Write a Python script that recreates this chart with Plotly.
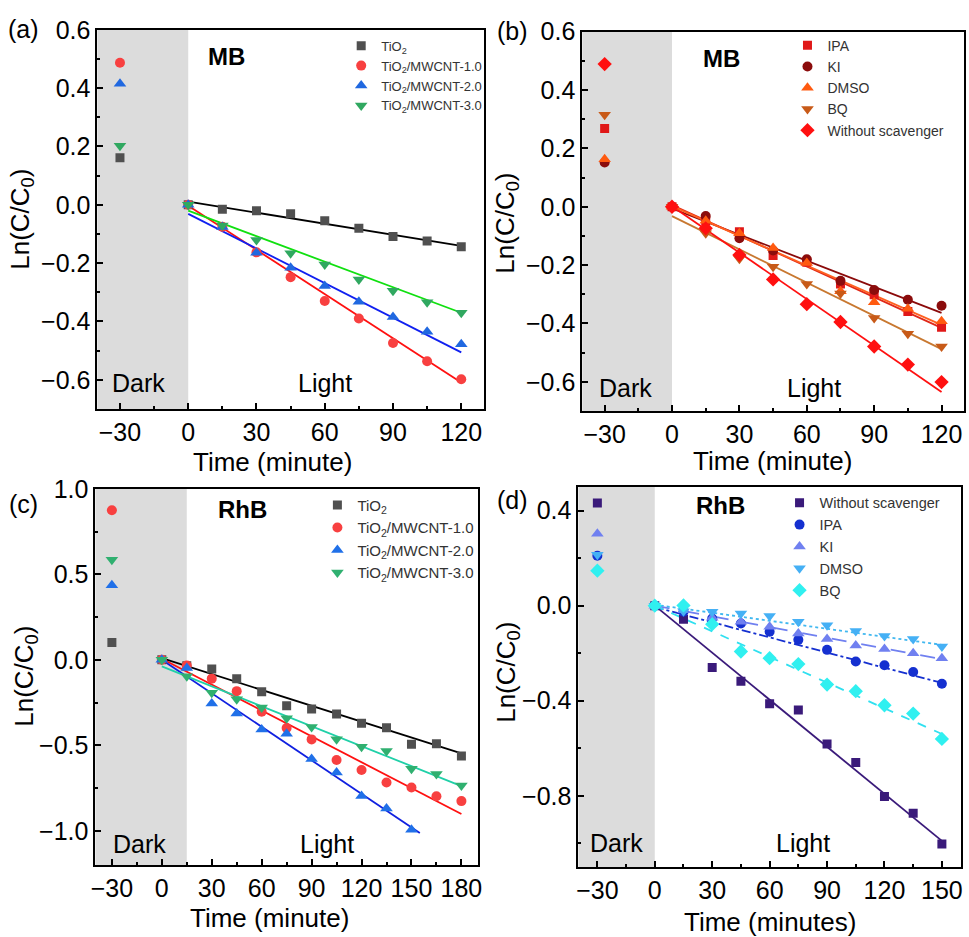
import plotly.graph_objects as go

# ---------------- data ----------------
# (a) MB, catalysts
t_a = [-30, 0, 15, 30, 45, 60, 75, 90, 105, 120]
a_tio2 = [0.161, 0, -0.015, -0.02, -0.031, -0.055, -0.08, -0.109, -0.124, -0.144]
a_cnt1 = [0.487, 0, -0.075, -0.163, -0.248, -0.33, -0.39, -0.474, -0.536, -0.598]
a_cnt2 = [0.415, 0, -0.076, -0.164, -0.216, -0.278, -0.332, -0.385, -0.435, -0.478]
a_cnt3 = [0.202, 0, -0.071, -0.121, -0.166, -0.205, -0.256, -0.295, -0.334, -0.37]
fit_t_a = [0, 120]
fit_a_tio2 = [0.011, -0.141]
fit_a_cnt1 = [-0.003, -0.609]
fit_a_cnt2 = [-0.031, -0.506]
fit_a_cnt3 = [-0.02, -0.37]

# (b) MB, scavengers
t_b = [-30, 0, 15, 30, 45, 60, 75, 90, 105, 120]
b_ipa = [0.268, 0, -0.048, -0.086, -0.167, -0.19, -0.265, -0.302, -0.359, -0.413]
b_ki = [0.152, 0, -0.032, -0.108, -0.15, -0.18, -0.254, -0.285, -0.319, -0.339]
b_dmso = [0.163, 0, -0.048, -0.091, -0.141, -0.193, -0.29, -0.327, -0.35, -0.392]
b_bq = [0.315, 0, -0.091, -0.178, -0.206, -0.265, -0.297, -0.381, -0.435, -0.479]
b_none = [0.489, 0, -0.074, -0.165, -0.249, -0.334, -0.395, -0.479, -0.541, -0.601]
fit_t_b = [0, 120]
fit_b_ipa = [0.006, -0.415]
fit_b_ki = [-0.006, -0.364]
fit_b_dmso = [0.002, -0.405]
fit_b_bq = [-0.032, -0.488]
fit_b_none = [0.002, -0.635]

# (c) RhB, catalysts
t_c = [-30, 0, 15, 30, 45, 60, 75, 90, 105, 120, 135, 150, 165, 180]
t_c2 = [-30, 0, 15, 30, 45, 60, 75, 90, 105, 120, 135, 150]
c_tio2 = [0.102, 0, -0.035, -0.054, -0.11, -0.186, -0.269, -0.288, -0.317, -0.371, -0.397, -0.493, -0.49, -0.562]
c_cnt1 = [0.875, 0, -0.033, -0.11, -0.183, -0.304, -0.398, -0.465, -0.586, -0.644, -0.717, -0.746, -0.798, -0.826]
c_cnt2 = [0.436, 0, -0.048, -0.255, -0.313, -0.407, -0.432, -0.58, -0.658, -0.796, -0.869, -0.993]
c_cnt3 = [0.585, 0, -0.096, -0.192, -0.23, -0.278, -0.341, -0.393, -0.464, -0.508, -0.533, -0.637, -0.667, -0.734]
fit_t_c = [0, 180]
fit_t_c2 = [0, 155]
fit_c_tio2 = [0.01, -0.547]
fit_c_cnt1 = [0.006, -0.901]
fit_c_cnt2 = [0.0, -1.012]
fit_c_cnt3 = [-0.038, -0.738]

# (d) RhB, scavengers
t_d = [-30, 0, 15, 30, 45, 60, 75, 90, 105, 120, 135, 150]
d_none = [0.432, 0, -0.057, -0.26, -0.318, -0.413, -0.439, -0.582, -0.66, -0.803, -0.874, -1.003]
d_ipa = [0.21, 0, -0.026, -0.054, -0.075, -0.11, -0.144, -0.186, -0.235, -0.251, -0.279, -0.329]
d_ki = [0.303, 0, -0.019, -0.051, -0.068, -0.089, -0.117, -0.14, -0.168, -0.182, -0.2, -0.221]
d_dmso = [0.214, 0, -0.024, -0.026, -0.033, -0.044, -0.068, -0.082, -0.107, -0.128, -0.14, -0.172]
d_bq = [0.147, 0, 0.001, -0.078, -0.193, -0.221, -0.246, -0.332, -0.36, -0.419, -0.454, -0.561]
fit_t_d = [0, 150]
fit_d_none = [0.0, -0.99]
fit_d_ipa = [-0.006, -0.325]
fit_d_ki = [0.0, -0.225]
fit_d_dmso = [0.004, -0.165]
fit_d_bq = [0.0, -0.54]

W, H = 969, 937
FONT = "Arial, Liberation Sans, sans-serif"

# marker size per symbol
SIZES = {"square": 9, "circle": 10, "triangle-up": 11, "triangle-down": 11, "diamond": 11}


def px(x, y):
    # pixel position -> paper coords
    return x / W, 1 - y / H


fig = go.Figure()


def add_points(x, y, name, color, symbol, ax, legend):
    fig.add_trace(go.Scatter(
        x=x, y=y, mode="markers", name=name,
        marker=dict(color=color, symbol=symbol, size=SIZES[symbol]),
        xaxis="x" + ax, yaxis="y" + ax, legend=legend
    ))


def add_fit(x, y, color, ax, dash="solid"):
    fig.add_trace(go.Scatter(
        x=x, y=y, mode="lines", showlegend=False,
        line=dict(color=color, width=1.8, dash=dash),
        xaxis="x" + ax, yaxis="y" + ax
    ))


# panel (a)
add_fit(fit_t_a, fit_a_tio2, "#000000", "")
add_fit(fit_t_a, fit_a_cnt1, "#ff1010", "")
add_fit(fit_t_a, fit_a_cnt2, "#1020f0", "")
add_fit(fit_t_a, fit_a_cnt3, "#10e010", "")
add_points(t_a, a_tio2, "TiO<sub>2</sub>", "#505050", "square", "", "legend")
add_points(t_a, a_cnt1, "TiO<sub>2</sub>/MWCNT-1.0", "#f84040", "circle", "", "legend")
add_points(t_a, a_cnt2, "TiO<sub>2</sub>/MWCNT-2.0", "#2068e0", "triangle-up", "", "legend")
add_points(t_a, a_cnt3, "TiO<sub>2</sub>/MWCNT-3.0", "#30a860", "triangle-down", "", "legend")

# panel (b)
add_fit(fit_t_b, fit_b_ki, "#8b0a0a", "2")
add_fit(fit_t_b, fit_b_ipa, "#e02818", "2")
add_fit(fit_t_b, fit_b_dmso, "#ff6020", "2")
add_fit(fit_t_b, fit_b_bq, "#c87830", "2")
add_fit(fit_t_b, fit_b_none, "#ff1010", "2")
add_points(t_b, b_ipa, "IPA", "#e01818", "square", "2", "legend2")
add_points(t_b, b_ki, "KI", "#8b0c0c", "circle", "2", "legend2")
add_points(t_b, b_dmso, "DMSO", "#ff5a10", "triangle-up", "2", "legend2")
add_points(t_b, b_bq, "BQ", "#c85a18", "triangle-down", "2", "legend2")
add_points(t_b, b_none, "Without scavenger", "#ff1010", "diamond", "2", "legend2")

# panel (c)
add_fit(fit_t_c, fit_c_tio2, "#000000", "3")
add_fit(fit_t_c, fit_c_cnt1, "#ff1010", "3")
add_fit(fit_t_c2, fit_c_cnt2, "#1020e0", "3")
add_fit(fit_t_c, fit_c_cnt3, "#20d0a8", "3")
add_points(t_c, c_tio2, "TiO<sub>2</sub>", "#505050", "square", "3", "legend3")
add_points(t_c, c_cnt1, "TiO<sub>2</sub>/MWCNT-1.0", "#f84040", "circle", "3", "legend3")
add_points(t_c2, c_cnt2, "TiO<sub>2</sub>/MWCNT-2.0", "#2070e8", "triangle-up", "3", "legend3")
add_points(t_c, c_cnt3, "TiO<sub>2</sub>/MWCNT-3.0", "#30b070", "triangle-down", "3", "legend3")

# panel (d)
add_fit(fit_t_d, fit_d_none, "#3a1a7a", "4")
add_fit(fit_t_d, fit_d_ipa, "#1530d0", "4", "dashdot")
add_fit(fit_t_d, fit_d_ki, "#7080f0", "4", "longdash")
add_fit(fit_t_d, fit_d_dmso, "#40b8f0", "4", "dot")
add_fit(fit_t_d, fit_d_bq, "#30e0f0", "4", "dash")
add_points(t_d, d_none, "Without scavenger", "#3a1a7a", "square", "4", "legend4")
add_points(t_d, d_ipa, "IPA", "#1530d0", "circle", "4", "legend4")
add_points(t_d, d_ki, "KI", "#7080f0", "triangle-up", "4", "legend4")
add_points(t_d, d_dmso, "DMSO", "#45b0f5", "triangle-down", "4", "legend4")
add_points(t_d, d_bq, "BQ", "#30f0f0", "diamond", "4", "legend4")


def xaxis(domain, rng, dtick, anchor):
    return dict(domain=domain, range=rng, anchor=anchor, dtick=dtick, tick0=0,
                showline=True, linecolor="black", linewidth=1.6, mirror=True,
                ticks="inside", ticklen=6, tickwidth=1.5, tickcolor="black",
                minor=dict(ticks="inside", ticklen=3, dtick=15, tickcolor="black"),
                showgrid=False, zeroline=False,
                tickfont=dict(family=FONT, size=25, color="black"))


def yaxis(domain, rng, dtick, minor, anchor):
    return dict(domain=domain, range=rng, anchor=anchor, dtick=dtick, tick0=0,
                tickformat=".1f",
                showline=True, linecolor="black", linewidth=1.6, mirror=True,
                ticks="inside", ticklen=6, tickwidth=1.5, tickcolor="black",
                minor=dict(ticks="inside", ticklen=3, dtick=minor, tickcolor="black"),
                showgrid=False, zeroline=False,
                tickfont=dict(family=FONT, size=25, color="black"))


def dom(x0, x1, y0, y1):
    return [x0 / W, x1 / W], [1 - y1 / H, 1 - y0 / H]


da = dom(94, 484, 16, 401)
db = dom(583, 968, 18, 403)
dc = dom(92, 478, 482, 864)
dd = dom(579, 965, 480, 866)


def legend(x, y, size):
    lx, ly = px(x, y)
    return dict(x=lx, y=ly, xanchor="left", yanchor="top",
                bgcolor="rgba(0,0,0,0)", tracegroupgap=0,
                font=dict(family=FONT, size=size, color="#333333"))


fig.update_layout(
    width=W, height=H,
    margin=dict(l=0, r=0, t=0, b=0),
    plot_bgcolor="white", paper_bgcolor="white",
    xaxis=xaxis(da[0], [-40, 130], 30, "y"),
    yaxis=yaxis(da[1], [-0.7, 0.6], 0.2, 0.1, "x"),
    xaxis2=xaxis(db[0], [-40, 130], 30, "y2"),
    yaxis2=yaxis(db[1], [-0.7, 0.6], 0.2, 0.1, "x2"),
    xaxis3=xaxis(dc[0], [-40, 190], 30, "y3"),
    yaxis3=yaxis(dc[1], [-1.2, 1.0], 0.5, 0.25, "x3"),
    xaxis4=xaxis(dd[0], [-40, 160], 30, "y4"),
    yaxis4=yaxis(dd[1], [-1.1, 0.5], 0.4, 0.2, "x4"),
    legend=legend(340, 17, 13),
    legend2=legend(790, 16, 14),
    legend3=legend(316, 482, 15),
    legend4=legend(782, 480, 14.5),
)

# dark region shading
for ax, x1 in [("", 0), ("2", 0), ("3", 15), ("4", 0)]:
    fig.add_shape(type="rect", xref="x" + ax, yref=("y" + ax) + " domain",
                  x0=-40, x1=x1, y0=0, y1=1, fillcolor="#dcdcdc",
                  line=dict(width=0), layer="below")


def note(text, x, y, size, bold=False, angle=0):
    xx, yy = px(x, y)
    if bold:
        text = "<b>" + text + "</b>"
    fig.add_annotation(text=text, x=xx, y=yy, xref="paper", yref="paper",
                       showarrow=False, xanchor="center", yanchor="middle",
                       textangle=angle,
                       font=dict(family=FONT, size=size, color="black"))


# panel letters
note("(a)", 20, 15, 25)
note("(b)", 513, 17, 25)
note("(c)", 20, 497, 25)
note("(d)", 513, 493, 25)

# axis titles
note("Time (minute)", 271, 455, 26)
note("Time (minute)", 775, 454, 26)
note("Time (minute)", 268, 918, 26)
note("Time (minutes)", 772, 922, 26)
ytitle = "Ln(C/C<sub>0</sub>)"
note(ytitle, 18, 208, 26, angle=-90)
note(ytitle, 507, 212, 26, angle=-90)
note(ytitle, 22, 672, 26, angle=-90)
note(ytitle, 507, 668, 26, angle=-90)

# dye names
note("MB", 224, 43, 24, bold=True)
note("MB", 723, 45, 24, bold=True)
note("RhB", 240, 503, 24, bold=True)
note("RhB", 722, 499, 24, bold=True)

# dark / light labels
note("Dark", 136, 375, 25)
note("Light", 324, 375, 25)
note("Dark", 627, 380, 25)
note("Light", 817, 380, 25)
note("Dark", 137, 843, 25)
note("Light", 326, 843, 25)
note("Dark", 618, 842, 25)
note("Light", 806, 842, 25)

# page has a default body margin; drop it so the figure fills the window
fig.write_html("out.html", config={"displayModeBar": False},
               post_script="document.body.style.margin='0';"
               "document.body.style.overflow='hidden';")
